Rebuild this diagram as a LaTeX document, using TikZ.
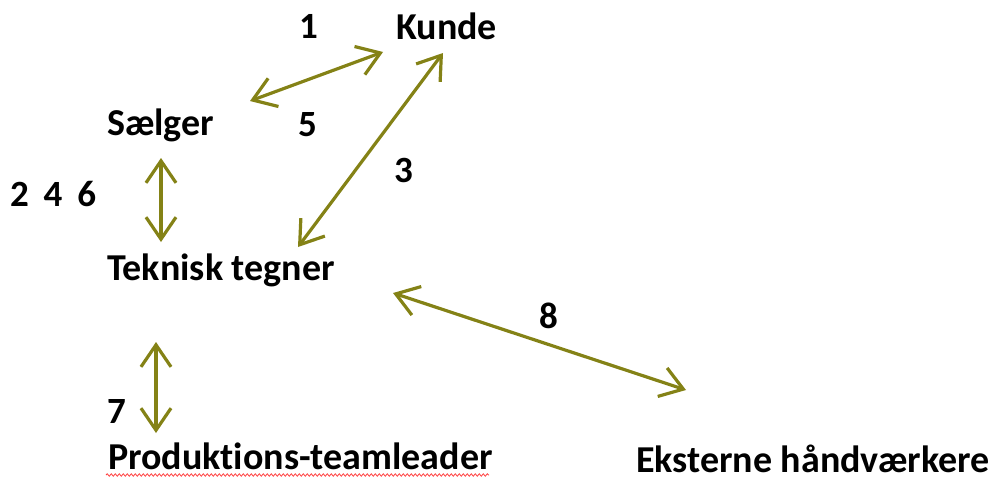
\documentclass[tikz,border=0pt]{standalone}
\usepackage{fontspec}
\setmainfont{Carlito}[Ligatures=NoCommon]
\usetikzlibrary{arrows.meta,decorations.pathmorphing}
\definecolor{olivearrow}{RGB}{132,130,22}
\tikzset{
  lbl/.style={anchor=base west, inner sep=0pt, text depth=0pt, font=\fontsize{38}{42}\selectfont\bfseries, text=black},
  num/.style={anchor=base west, inner sep=0pt, text depth=0pt, font=\fontsize{37}{42}\selectfont\bfseries, text=black},
  biarrow/.style={draw=olivearrow, line width=3.2pt,
    {Straight Barb[length=22pt,width=30pt]}-{Straight Barb[length=22pt,width=30pt]}},
  spell/.style={draw=red!75, line width=0.8pt, decorate, decoration={snake, amplitude=1.2pt, segment length=4pt}}
}
\begin{document}
\begin{tikzpicture}[x=1pt,y=-1pt]
\useasboundingbox (0,0) rectangle (993,479);
% labels
\node[lbl] (kunde) at (396,39) {Kunde};
\node[lbl] (saelger) at (107,135) {Sælger};
\node[lbl] (teknisk) at (107,280) {Teknisk tegner};
\node[lbl] (prod) at (108,469) {Produktions-teamleader};
\node[lbl] (ekst) at (636,472) {Eksterne håndværkere};
% numbers
\node[num] (n1) at (299,38) {1};
\node[num] (n5) at (298,136) {5};
\node[num] (n3) at (394,182) {3};
\node[num] (n246) at (10,206) {2\hspace{0.4em}4\hspace{0.4em}6};
\node[num] (n8) at (539,328) {8};
\node[num] (n7) at (107,423) {7};
% arrow endpoints
\coordinate (a1s) at (250,101);
\coordinate (a1e) at (383,52);
\coordinate (a3s) at (443,53);
\coordinate (a3e) at (298,247);
\coordinate (a2s) at (161,158);
\coordinate (a2e) at (161,242);
\coordinate (a7s) at (156,342);
\coordinate (a7e) at (156,433);
\coordinate (a8s) at (393,293);
\coordinate (a8e) at (686,390);
\draw[biarrow] (a1s) -- (a1e);
\draw[biarrow] (a3s) -- (a3e);
\draw[biarrow] (a2s) -- (a2e);
\draw[biarrow] (a7s) -- (a7e);
\draw[biarrow] (a8s) -- (a8e);
% spell-check squiggle
\coordinate (sq1) at (106,475);
\coordinate (sq2) at (489,475);
\draw[spell] (sq1) -- (sq2);
\end{tikzpicture}
\end{document}
